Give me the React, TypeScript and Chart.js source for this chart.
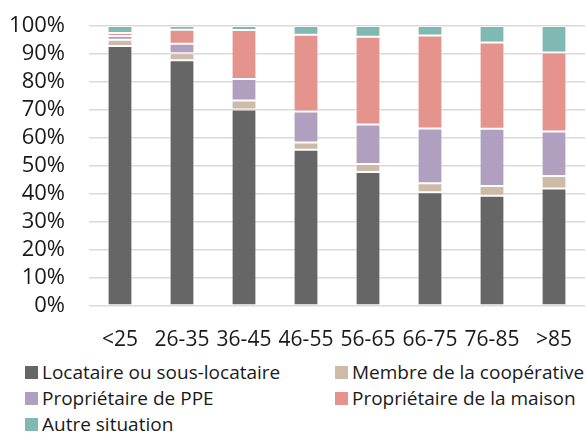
import React, { useEffect, useRef } from "react";
import { Chart, registerables } from "chart.js";

Chart.register(...registerables);

const categories = ["<25", "26-35", "36-45", "46-55", "56-65", "66-75", "76-85", ">85"];
const locataire = [92.9, 87.8, 70.2, 55.8, 47.9, 40.6, 39.4, 42.0];
const membre = [2.2, 2.5, 3.2, 2.6, 2.8, 3.2, 3.5, 4.4];
const ppe = [1.3, 3.4, 7.7, 11.1, 14.1, 19.6, 20.4, 15.9];
const maison = [1.1, 5.0, 17.5, 27.4, 31.4, 33.2, 30.8, 28.2];
const autre = [2.5, 1.3, 1.4, 3.1, 3.8, 3.4, 5.9, 9.5];
const yTicks = [0, 10, 20, 30, 40, 50, 60, 70, 80, 90, 100];

const seriesNames = [
  "Locataire ou sous-locataire",
  "Membre de la coopérative",
  "Propriétaire de PPE",
  "Propriétaire de la maison",
  "Autre situation",
];
const seriesColors = ["#666666", "#cdbaa7", "#b09fbf", "#e4938d", "#80b8b3"];
const seriesData = [locataire, membre, ppe, maison, autre];

const FONT = "'Open Sans', sans-serif";
const TEXT = "#1a1a1a";

export default function App() {
  const ref = useRef<HTMLCanvasElement>(null);
  useEffect(() => {
    if (!ref.current) return;
    const chart = new Chart(ref.current, {
      type: "bar",
      data: {
        labels: categories,
        datasets: seriesNames.map((name, i) => ({
          label: name,
          data: seriesData[i],
          backgroundColor: seriesColors[i],
          borderColor: "rgba(255,255,255,0.45)",
          borderWidth: 1,
          borderSkipped: false,
          categoryPercentage: 1,
          barPercentage: 0.4,
        })),
      },
      options: {
        responsive: false,
        animation: false,
        devicePixelRatio: 1,
        layout: { padding: { top: 26, right: 2, bottom: 3, left: 0 } },
        plugins: { legend: { display: false }, tooltip: { enabled: false } },
        scales: {
          x: {
            stacked: true,
            grid: { display: false, drawTicks: false },
            border: { display: false },
            ticks: { padding: 21, color: TEXT, font: { family: FONT, size: 21 }, maxRotation: 0, autoSkip: false },
            afterFit: (scale: any) => {
              scale.height = 49;
              scale.paddingLeft = 0;
              scale.paddingRight = 0;
            },
          },
          y: {
            stacked: true,
            min: 0,
            max: 100,
            afterBuildTicks: (scale: any) => {
              scale.ticks = yTicks.map((v) => ({ value: v }));
            },
            afterFit: (scale: any) => {
              scale.width = 89;
              scale.paddingTop = 0;
              scale.paddingBottom = 0;
            },
            grid: { color: "#d9d9d9", lineWidth: 1.6, drawTicks: false },
            border: { display: false },
            ticks: {
              autoSkip: false,
              padding: 24,
              color: TEXT,
              font: { family: FONT, size: 22 },
              callback: (v: any) => v + "%",
            },
          },
        },
      },
    });
    return () => chart.destroy();
  }, []);

  const legendItem = (i: number) => (
    <div key={i} style={{ display: "flex", alignItems: "center", height: 26, whiteSpace: "nowrap" }}>
      <span style={{ display: "inline-block", width: 13, height: 13, background: seriesColors[i], marginRight: 4 }} />
      <span>{seriesNames[i]}</span>
    </div>
  );

  return (
    <div style={{ position: "absolute", left: 0, top: 0, width: 587, height: 435, background: "#fff", overflow: "hidden" }}>
      <canvas ref={ref} width={587} height={358} style={{ display: "block" }} />
      <div
        style={{
          position: "absolute",
          left: 25,
          top: 359,
          display: "grid",
          gridTemplateColumns: "310px 260px",
          fontFamily: FONT,
          fontSize: 19,
          color: TEXT,
          lineHeight: "26px",
        }}
      >
        {legendItem(0)}
        {legendItem(1)}
        {legendItem(2)}
        {legendItem(3)}
        {legendItem(4)}
      </div>
    </div>
  );
}
